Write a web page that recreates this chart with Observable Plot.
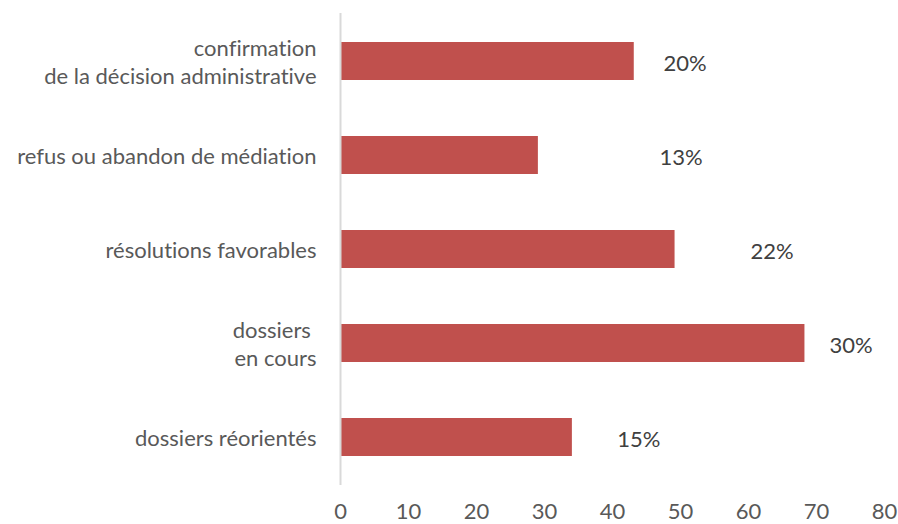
<!DOCTYPE html>
<html>
<head>
<meta charset="utf-8">
<script src="https://cdn.jsdelivr.net/npm/d3@7"></script>
<script src="https://cdn.jsdelivr.net/npm/@observablehq/plot@0.6"></script>
<style>
  html, body { margin: 0; padding: 0; background: #ffffff; }
  svg text { font-variant-ligatures: none; font-feature-settings: "liga" 0, "dlig" 0; }
</style>
</head>
<body>
<div id="chart"></div>
<script>
const categories = [
  "confirmation\nde la décision administrative",
  "refus ou abandon de médiation",
  "résolutions favorables",
  "dossiers \nen cours",
  "dossiers réorientés"
];
const values = [43.2, 29.1, 49.2, 68.3, 34.1];
const percentLabels = ["20%", "13%", "22%", "30%", "15%"];
// where each percentage label starts, in x-axis units (labels were placed by hand)
const labelX = [47.5, 46.9, 60.3, 71.9, 40.7];
const xTicks = [0, 10, 20, 30, 40, 50, 60, 70, 80];

const data = categories.map((c, i) => ({cat: c, value: values[i], pct: percentLabels[i], lx: labelX[i]}));

const FONT = "Lato, 'Open Sans', sans-serif";
const FS = 22;

const chart = Plot.plot({
  width: 898,
  height: 524,
  marginLeft: 340,
  marginRight: 14,
  marginTop: 13,
  marginBottom: 39,
  style: {fontFamily: FONT, fontSize: FS + "px", color: "#595959", background: "#ffffff"},
  x: {domain: [0, 80], ticks: xTicks, label: null},
  y: {domain: categories, paddingInner: 0.6, paddingOuter: 0.3, axis: null},
  marks: [
    Plot.barX(data, {x: "value", y: "cat", fill: "#C0504D"}),
    Plot.ruleX([0], {stroke: "#d9d9d9", strokeWidth: 2}),
    Plot.axisX({ticks: xTicks, tickSize: 0, tickPadding: 18, label: null, fontSize: FS, fill: "#595959"}),
    Plot.text(data, {x: 0, y: "cat", text: "cat", textAnchor: "end", dx: -24, lineHeight: 1.27,
      fill: "#595959", fontSize: FS, ariaLabel: "cat-labels"}),
    Plot.text(data, {x: "lx", y: "cat", text: "pct", textAnchor: "start", dy: 2,
      fill: "#404040", fontSize: FS})
  ]
});

document.getElementById("chart").append(chart);

// center the lines of multi-line category labels on each other (right edge kept)
chart.querySelectorAll('g[aria-label="cat-labels"] text').forEach(t => {
  t.style.whiteSpace = "pre";
  const spans = Array.from(t.querySelectorAll("tspan"));
  if (spans.length > 1) {
    const w = spans.map(s => s.getComputedTextLength());
    const m = Math.max(...w);
    spans.forEach((s, i) => s.setAttribute("x", -(m - w[i]) / 2));
  }
});
</script>
</body>
</html>
